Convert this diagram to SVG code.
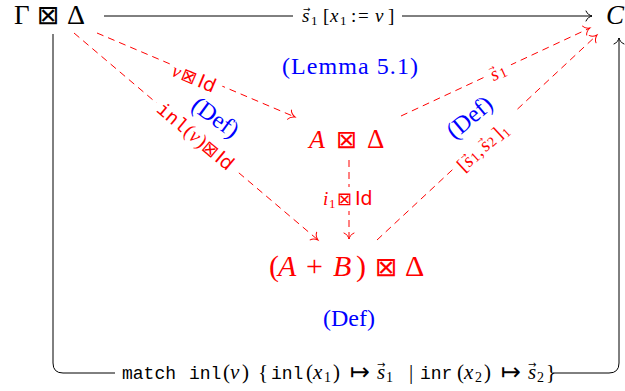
<svg xmlns="http://www.w3.org/2000/svg" width="625" height="391" viewBox="0 0 625 391">
<style>
text{font-family:"Liberation Serif","DejaVu Serif",serif;}
.i{font-style:italic}
.tt{font-family:"Liberation Mono","DejaVu Sans Mono",monospace}
.sf{font-family:"DejaVu Sans","Liberation Sans",sans-serif}
.sym{font-family:"DejaVu Sans",sans-serif}
.va{font-family:"DejaVu Sans",sans-serif}
.red{fill:#f00}
.blue{fill:#00f}
.edge{fill:none;stroke:#000;stroke-width:1}
.dash{fill:none;stroke:#f00;stroke-width:1;stroke-dasharray:7 5}
.bg{fill:#fff}
</style>
<defs>
<marker id="ab" markerWidth="12" markerHeight="12" refX="0" refY="0" viewBox="-7 -6 9 12" orient="auto" markerUnits="userSpaceOnUse">
<path d="M-6,-5 C-5,-2 -2,-0.6 0,0 C-2,0.6 -5,2 -6,5" fill="none" stroke="#000" stroke-width="1" stroke-linecap="round"/>
</marker>
<marker id="ar" markerWidth="12" markerHeight="12" refX="0" refY="0" viewBox="-7 -6 9 12" orient="auto" markerUnits="userSpaceOnUse">
<path d="M-6,-5 C-5,-2 -2,-0.6 0,0 C-2,0.6 -5,2 -6,5" fill="none" stroke="#f00" stroke-width="1" stroke-linecap="round"/>
</marker>
</defs>

<g id="connectors">
<path class="edge" d="M104,16 H293"/>
<path class="edge" d="M402,16 H592" marker-end="url(#ab)"/>
<text font-size="19"><tspan class="i" x="302" y="22">s</tspan><tspan class="va" font-size="9" x="303" y="12">→</tspan><tspan font-size="13" x="311" y="25">1</tspan><tspan x="323" y="22">[</tspan><tspan class="i" x="330" y="22">x</tspan><tspan font-size="13" x="340" y="25">1</tspan><tspan x="351" y="22">:</tspan><tspan x="358" y="22">=</tspan><tspan class="i" x="375" y="22">v</tspan><tspan x="388" y="22">]</tspan></text>

<path class="edge" d="M53,34 V363 Q53,373 63,373 H115"/>
<path class="edge" d="M553,373 H609 Q619,373 619,363 V38" marker-end="url(#ab)"/>
<text font-size="21"><tspan class="tt" font-size="18" x="122" y="379">match</tspan><tspan class="tt" font-size="18" x="189" y="379">inl</tspan><tspan x="223" y="379">(</tspan><tspan class="i" x="230" y="379">v</tspan><tspan x="242" y="379">)</tspan><tspan x="258" y="379">{</tspan><tspan class="tt" font-size="18" x="271" y="379">inl</tspan><tspan x="306" y="379">(</tspan><tspan class="i" x="313" y="379">x</tspan><tspan font-size="14" x="324" y="382">1</tspan><tspan x="333" y="379">)</tspan><tspan class="va" font-size="24" x="350" y="380">↦</tspan><tspan class="i" x="377" y="379">s</tspan><tspan class="va" font-size="10" x="377" y="368">→</tspan><tspan font-size="14" x="386" y="382">1</tspan><tspan x="409" y="379">|</tspan><tspan class="tt" font-size="18" x="420" y="379">inr</tspan><tspan x="457" y="379">(</tspan><tspan class="i" x="464" y="379">x</tspan><tspan font-size="14" x="475" y="382">2</tspan><tspan x="484" y="379">)</tspan><tspan class="va" font-size="24" x="501" y="380">↦</tspan><tspan class="i" x="528" y="379">s</tspan><tspan class="va" font-size="10" x="528" y="368">→</tspan><tspan font-size="14" x="537" y="382">2</tspan><tspan x="546" y="379">}</tspan></text>

<path class="dash" d="M97,33 L295,117" marker-end="url(#ar)"/>
<path class="dash" d="M74,33 L318,240" marker-end="url(#ar)"/>
<path class="dash" d="M401,116 L590,28" marker-end="url(#ar)"/>
<path class="dash" d="M377,240 L597,35" marker-end="url(#ar)"/>
<path class="dash" d="M349,160 L349,239" marker-end="url(#ar)"/>

<g transform="translate(195,79) rotate(23)">
<rect class="bg" x="-28" y="-10" width="56" height="20"/>
<text class="red" font-size="19" y="6"><tspan class="i" x="-24">v</tspan><tspan class="sym" x="-14" font-size="18">⊠</tspan><tspan class="sf" x="4">Id</tspan></text>
</g>
<g transform="translate(197,138) rotate(40)">
<rect class="bg" x="-54" y="-10" width="108" height="20"/>
<text class="red" font-size="20" y="6"><tspan class="tt" font-size="19" x="-49">inl</tspan><tspan x="-14">(</tspan><tspan class="i" x="-7">v</tspan><tspan x="3">)</tspan><tspan class="sym" x="10" font-size="18">⊠</tspan><tspan class="sf" font-size="19" x="27">Id</tspan></text>
</g>
<g transform="translate(499,72) rotate(-25)">
<rect class="bg" x="-14" y="-10" width="28" height="20"/>
<text class="red" font-size="19" y="6"><tspan class="i" x="-9">s</tspan><tspan class="va" font-size="8" x="-8.5" y="-4">→</tspan><tspan font-size="14" x="0" y="7">1</tspan></text>
</g>
<g transform="translate(487,143) rotate(-43)">
<rect class="bg" x="-42" y="-11" width="84" height="22"/>
<text class="red" font-size="19" y="6"><tspan x="-37">[</tspan><tspan class="i" x="-30">s</tspan><tspan class="va" font-size="8" x="-29.5" y="-4">→</tspan><tspan font-size="14" x="-22" y="7">1</tspan><tspan x="-14" y="6">,</tspan><tspan class="i" x="-7" y="6">s</tspan><tspan class="va" font-size="8" x="-6.5" y="-4">→</tspan><tspan font-size="14" x="1" y="7">2</tspan><tspan x="11" y="6">]</tspan><tspan font-size="13" x="18" y="10">1</tspan></text>
</g>
<rect class="bg" x="318" y="187" width="62" height="24"/>
<text class="red" font-size="19" y="205"><tspan class="i" x="323">i</tspan><tspan font-size="13" x="329" y="208">1</tspan><tspan class="sym" x="337" y="205" font-size="18">⊠</tspan><tspan class="sf" x="355" y="205">Id</tspan></text>

<text class="blue" x="282" y="74" font-size="24" textLength="136" lengthAdjust="spacing">(Lemma 5.1)</text>
<text class="blue" x="349" y="326" font-size="24" text-anchor="middle">(Def)</text>
<text class="blue" transform="translate(215,118) rotate(36)" x="0" y="7" font-size="24" text-anchor="middle">(Def)</text>
<text class="blue" transform="translate(470,118) rotate(-40)" x="0" y="7" font-size="24" text-anchor="middle">(Def)</text>
</g>

<g id="n-gamma"><text font-size="27" y="24"><tspan x="14">Γ</tspan><tspan class="sym" x="37" font-size="27">⊠</tspan><tspan x="67" font-size="28">Δ</tspan></text></g>
<g id="n-C"><text class="i" x="606" y="24" font-size="27">C</text></g>
<g id="n-A"><text class="red" font-size="26" y="148"><tspan class="i" x="309">A</tspan><tspan class="sym" x="336" font-size="25">⊠</tspan><tspan x="367" font-size="27">Δ</tspan></text></g>
<g id="n-AB"><text class="red" font-size="30" y="276"><tspan x="269">(</tspan><tspan class="i" x="278">A</tspan><tspan x="306">+</tspan><tspan class="i" x="333">B</tspan><tspan x="356">)</tspan><tspan class="sym" x="375" font-size="27">⊠</tspan><tspan x="405" font-size="30">Δ</tspan></text></g>
</svg>
